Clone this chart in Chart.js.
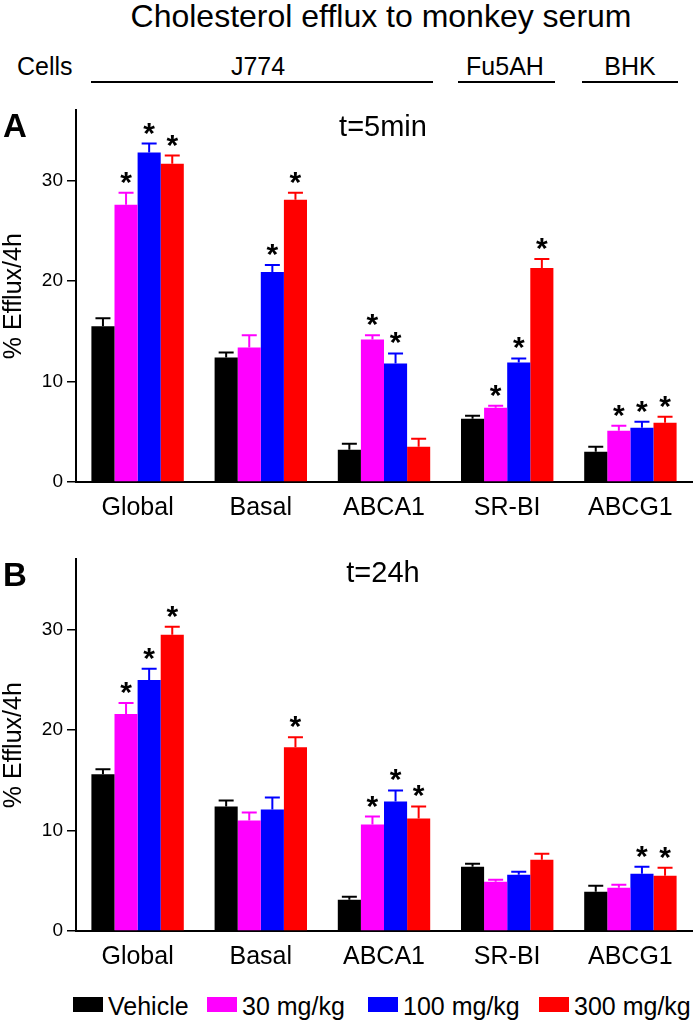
<!DOCTYPE html>
<html>
<head>
<meta charset="utf-8">
<script src="https://cdn.jsdelivr.net/npm/chart.js@4.4.1/dist/chart.umd.min.js"></script>
<style>
  body { margin: 0; background: #fff; font-family: "Liberation Sans", Arial, sans-serif; }
  #page { position: relative; width: 700px; height: 1023px; overflow: hidden; }
  .t { position: absolute; line-height: 1; white-space: nowrap; color: #000; z-index: 2; }
  .c { transform: translateX(-50%); }
  .rule { position: absolute; height: 2px; background: #000; top: 81px; }
  canvas { position: absolute; left: 0; z-index: 1; }
  .lbox { position: absolute; top: 997px; width: 30px; height: 15px; z-index: 2; }
  .ltxt { position: absolute; top: 994px; font-size: 25px; line-height: 1; white-space: nowrap; z-index: 2; }
</style>
</head>
<body>
<div id="page">
  <div class="t c" style="left:381px; top:0px; font-size:32px;">Cholesterol efflux to monkey serum</div>
  <div class="t" style="left:17px; top:54px; font-size:25px;">Cells</div>
  <div class="t c" style="left:258px; top:54px; font-size:25px;">J774</div>
  <div class="t c" style="left:505px; top:54px; font-size:25px;">Fu5AH</div>
  <div class="t c" style="left:630px; top:54px; font-size:25px;">BHK</div>
  <div class="rule" style="left:91px; width:342px;"></div>
  <div class="rule" style="left:458px; width:97px;"></div>
  <div class="rule" style="left:582px; width:96px;"></div>

  <div class="t" style="left:3px; top:109px; font-size:33px; font-weight:bold;">A</div>
  <div class="t c" style="left:383px; top:112px; font-size:29px;">t=5min</div>
  <canvas id="chartA" width="700" height="440" style="top:95px;"></canvas>

  <div class="t" style="left:3px; top:558px; font-size:33px; font-weight:bold;">B</div>
  <div class="t c" style="left:383px; top:558px; font-size:29px;">t=24h</div>
  <canvas id="chartB" width="700" height="440" style="top:544px;"></canvas>

  <div id="legend"></div>
</div>

<script>
"use strict";

var categories = ["Global", "Basal", "ABCA1", "SR-BI", "ABCG1"];
var seriesNames = ["Vehicle", "30 mg/kg", "100 mg/kg", "300 mg/kg"];
var seriesColors = ["#000000", "#FF00FF", "#0000FF", "#FF0000"];
var yTicks = [0, 10, 20, 30];

// t = 5 min
var vehicle5 = [15.5, 12.4, 3.2, 6.3, 3.0];
var vehicle5Err = [0.8, 0.5, 0.6, 0.3, 0.5];
var dose30_5 = [27.6, 13.4, 14.2, 7.4, 5.1];
var dose30_5Err = [1.2, 1.2, 0.4, 0.2, 0.5];
var dose100_5 = [32.8, 20.9, 11.8, 11.9, 5.4];
var dose100_5Err = [0.9, 0.7, 1.0, 0.4, 0.6];
var dose300_5 = [31.7, 28.1, 3.5, 21.3, 5.9];
var dose300_5Err = [0.8, 0.7, 0.8, 0.9, 0.6];
var vehicle5Sig = [false, false, false, false, false];
var dose30_5Sig = [true, false, true, true, true];
var dose100_5Sig = [true, true, true, true, true];
var dose300_5Sig = [true, true, false, true, true];

// t = 24 h
var vehicle24 = [15.6, 12.4, 3.1, 6.4, 3.9];
var vehicle24Err = [0.5, 0.6, 0.3, 0.3, 0.6];
var dose30_24 = [21.6, 11.0, 10.6, 4.9, 4.3];
var dose30_24Err = [1.1, 0.8, 0.8, 0.2, 0.3];
var dose100_24 = [25.0, 12.1, 12.9, 5.6, 5.7];
var dose100_24Err = [1.1, 1.2, 1.1, 0.3, 0.7];
var dose300_24 = [29.5, 18.3, 11.2, 7.1, 5.5];
var dose300_24Err = [0.8, 1.0, 1.2, 0.6, 0.8];
var vehicle24Sig = [false, false, false, false, false];
var dose30_24Sig = [true, false, true, false, false];
var dose100_24Sig = [true, false, true, false, true];
var dose300_24Sig = [true, true, true, false, true];

var FONT = "'Liberation Sans', Arial, sans-serif";

// draws the SEM whiskers and the significance stars on top of each bar
var errorBars = {
    id: "errorBars",
    afterDatasetsDraw: function (chart) {
        var ctx = chart.ctx;
        var y = chart.scales.y;
        chart.data.datasets.forEach(function (ds, i) {
            var meta = chart.getDatasetMeta(i);
            meta.data.forEach(function (bar, j) {
                var top = y.getPixelForValue(ds.data[j] + ds.errors[j]);
                ctx.save();
                ctx.strokeStyle = ds.backgroundColor;
                ctx.lineWidth = 2;
                ctx.beginPath();
                ctx.moveTo(bar.x, bar.y);
                ctx.lineTo(bar.x, top);
                ctx.moveTo(bar.x - 7.5, top);
                ctx.lineTo(bar.x + 7.5, top);
                ctx.stroke();
                if (ds.stars[j]) {
                    ctx.fillStyle = "#000";
                    ctx.font = "bold 30px " + FONT;
                    ctx.textAlign = "center";
                    ctx.textBaseline = "alphabetic";
                    ctx.fillText("*", bar.x, top - 1);
                }
                ctx.restore();
            });
        });
    },
};

function makeChart(id, means, errs, sigs) {
    var datasets = seriesNames.map(function (name, i) {
        return {
            label: name,
            data: means[i],
            errors: errs[i],
            stars: sigs[i],
            backgroundColor: seriesColors[i],
            borderWidth: 0,
            barPercentage: 1.0,
            categoryPercentage: 0.75,
        };
    });

    return new Chart(document.getElementById(id), {
        type: "bar",
        data: { labels: categories, datasets: datasets },
        plugins: [errorBars],
        options: {
            responsive: false,
            animation: false,
            layout: { padding: { top: 15, right: 8, bottom: 0, left: 0 } },
            scales: {
                x: {
                    afterFit: function (scale) {
                        scale.height = 53;
                    },
                    grid: { display: false, drawTicks: false },
                    border: { display: true, color: "#000", width: 2 },
                    ticks: {
                        color: "#000",
                        padding: 11,
                        font: { family: FONT, size: 25 },
                    },
                },
                y: {
                    min: 0,
                    max: 37,
                    afterFit: function (scale) {
                        scale.width = 76;
                    },
                    afterBuildTicks: function (scale) {
                        scale.ticks = yTicks.map(function (v) {
                            return { value: v };
                        });
                    },
                    grid: {
                        display: true,
                        drawOnChartArea: false,
                        drawTicks: true,
                        tickLength: 9,
                        color: "#000",
                        lineWidth: 1.5,
                    },
                    border: { display: true, color: "#000", width: 2 },
                    ticks: {
                        color: "#000",
                        padding: 4,
                        font: { family: FONT, size: 19 },
                    },
                    title: {
                        display: true,
                        text: "% Efflux/4h",
                        color: "#000",
                        padding: { top: 0, bottom: 0 },
                        font: { family: FONT, size: 25, lineHeight: 1.1 },
                    },
                },
            },
            plugins: {
                legend: { display: false },
                tooltip: { enabled: false },
            },
        },
    });
}

makeChart(
    "chartA",
    [vehicle5, dose30_5, dose100_5, dose300_5],
    [vehicle5Err, dose30_5Err, dose100_5Err, dose300_5Err],
    [vehicle5Sig, dose30_5Sig, dose100_5Sig, dose300_5Sig]
);

makeChart(
    "chartB",
    [vehicle24, dose30_24, dose100_24, dose300_24],
    [vehicle24Err, dose30_24Err, dose100_24Err, dose300_24Err],
    [vehicle24Sig, dose30_24Sig, dose100_24Sig, dose300_24Sig]
);

// legend shared by both panels
var legendBoxX = [73, 207, 368, 539];
var page = document.getElementById("page");
seriesNames.forEach(function (name, i) {
    var box = document.createElement("div");
    box.className = "lbox";
    box.style.left = legendBoxX[i] + "px";
    box.style.background = seriesColors[i];
    var lab = document.createElement("div");
    lab.className = "ltxt";
    lab.style.left = legendBoxX[i] + 35 + "px";
    lab.textContent = name;
    page.appendChild(box);
    page.appendChild(lab);
});
</script>
</body>
</html>
